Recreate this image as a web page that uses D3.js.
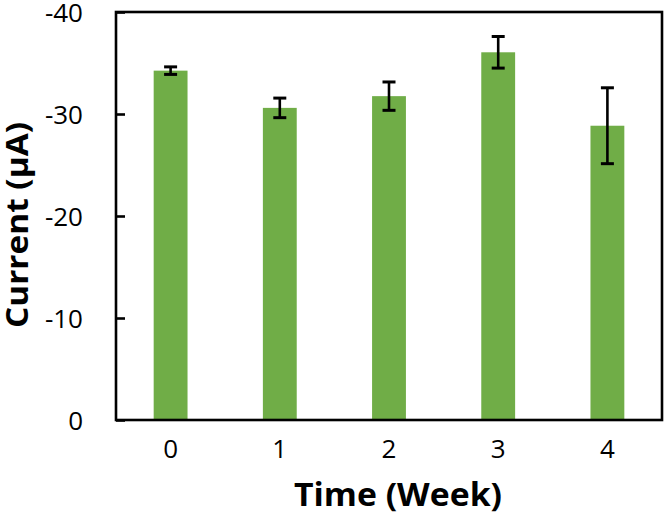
<!DOCTYPE html>
<html><head><meta charset="utf-8">
<script src="https://cdn.jsdelivr.net/npm/d3@7/dist/d3.min.js"></script>
<style>body{margin:0;background:#fff;} svg{display:block;}</style>
</head><body>
<svg id="c" width="667" height="518"></svg>
<script>
const weeks = ["0","1","2","3","4"];
const current = [-34.25, -30.6, -31.75, -36.05, -28.85];
const errors = [0.37, 0.96, 1.39, 1.55, 3.72];
const yTicks = [0, -10, -20, -30, -40];

const svg = d3.select("#c");
const m = {l:116, r:662, t:12, b:420};
const font = "'Open Sans', sans-serif";

const x = d3.scaleBand().domain(weeks).range([m.l, m.r]).paddingInner(0.69).paddingOuter(0.345);
const y = d3.scaleLinear().domain([0, -40]).range([m.b, m.t]);

// bars
svg.append("g").selectAll("rect").data(current).join("rect")
  .attr("x", (d,i)=>x(weeks[i]))
  .attr("width", x.bandwidth())
  .attr("y", d=>y(d))
  .attr("height", d=>y(0)-y(d))
  .attr("fill", "#70AD47");

// error bars
const eg = svg.append("g").attr("stroke","#000").attr("stroke-width",2.6);
current.forEach((d,i)=>{
  const cx = x(weeks[i]) + x.bandwidth()/2;
  const hi = d - errors[i], lo = d + errors[i];
  eg.append("line").attr("x1",cx).attr("x2",cx).attr("y1",y(hi)).attr("y2",y(lo));
  eg.append("line").attr("x1",cx-6.5).attr("x2",cx+6.5).attr("y1",y(hi)).attr("y2",y(hi)).attr("stroke-width",3);
  eg.append("line").attr("x1",cx-6.5).attr("x2",cx+6.5).attr("y1",y(lo)).attr("y2",y(lo)).attr("stroke-width",3);
});

// frame
svg.append("rect").attr("x",m.l).attr("y",m.t).attr("width",m.r-m.l).attr("height",m.b-m.t)
  .attr("fill","none").attr("stroke","#000").attr("stroke-width",2.6);

// y axis
const ya = svg.append("g").attr("transform",`translate(${m.l},0)`)
  .call(d3.axisLeft(y).tickValues(yTicks).tickSizeInner(-9).tickSizeOuter(0).tickPadding(33).tickFormat(d3.format("d")));
ya.select(".domain").remove();
ya.selectAll(".tick line").attr("stroke","#000").attr("stroke-width",2.6);
ya.selectAll(".tick text").attr("font-family",font).attr("font-size",26).attr("fill","#000")
  .attr("dy","0.38em")
  .text(d=> d===0 ? "0" : "-" + Math.abs(d));

// x axis
const xa = svg.append("g").attr("transform",`translate(0,${m.b})`)
  .call(d3.axisBottom(x).tickSize(0).tickPadding(20));
xa.select(".domain").remove();
xa.selectAll(".tick text").attr("font-family",font).attr("font-size",26).attr("fill","#000");

// titles
svg.append("text").attr("x",398).attr("y",506).attr("text-anchor","middle")
  .attr("font-family",font).attr("font-weight","bold").attr("font-size",33)
  .attr("textLength",208).attr("lengthAdjust","spacingAndGlyphs").text("Time (Week)");
svg.append("text").attr("transform",`translate(28,225) rotate(-90)`).attr("text-anchor","middle")
  .attr("font-family",font).attr("font-weight","bold").attr("font-size",31)
  .attr("textLength",206).attr("lengthAdjust","spacingAndGlyphs").text("Current (μA)");
</script>
</body></html>
